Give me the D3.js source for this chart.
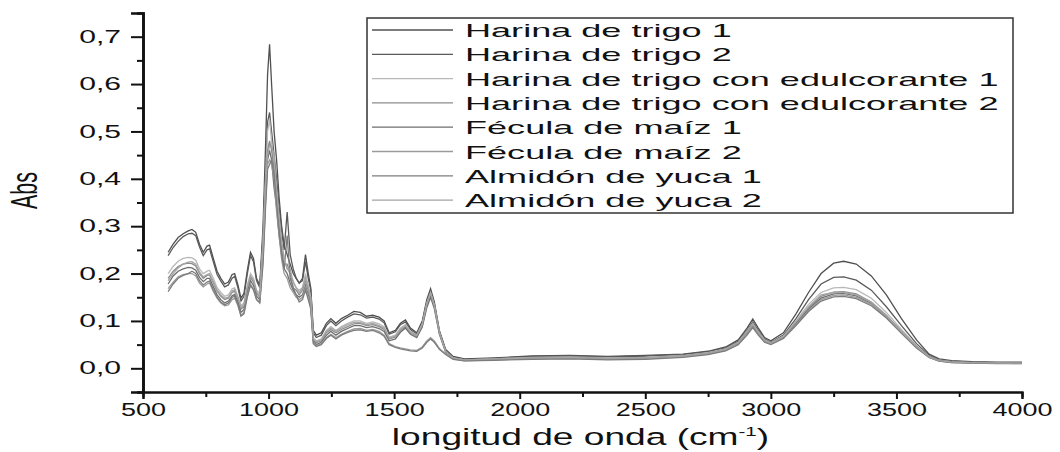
<!DOCTYPE html>
<html>
<head>
<meta charset="utf-8">
<script src="https://cdn.jsdelivr.net/npm/d3@7"></script>
<style>
  body { margin: 0; background: #fff; }
  text { font-family: "Liberation Sans", Arial, sans-serif; fill: #111; }
</style>
</head>
<body>
<div id="chart"></div>
<script>
// wavenumbers (cm-1) shared by every spectrum
var wavenumbers = [
  600,620,640,660,680,695,710,725,740,755,
  765,780,795,810,825,840,855,865,878,890,
  902,915,928,940,952,965,978,988,996,1004,
  1012,1022,1032,1042,1052,1062,1074,1086,1098,1110,
  1122,1135,1147,1158,1168,1178,1190,1210,1230,1248,
  1268,1290,1315,1340,1365,1390,1415,1440,1460,1480,
  1505,1525,1545,1565,1590,1612,1630,1645,1660,1680,
  1705,1735,1780,1900,2050,2200,2350,2500,2650,2750,
  2820,2870,2905,2928,2950,2975,3000,3050,3100,3150,
  3200,3250,3290,3340,3400,3460,3520,3580,3630,3670,
  3720,3800,3900,4000];

var seriesNames = [
  "Harina de trigo 1",
  "Harina de trigo 2",
  "Harina de trigo con edulcorante 1",
  "Harina de trigo con edulcorante 2",
  "Fécula de maíz 1",
  "Fécula de maíz 2",
  "Almidón de yuca 1",
  "Almidón de yuca 2"];

var harinaTrigo1 = [
  0.245,0.262,0.276,0.284,0.290,0.293,0.287,0.262,0.245,0.258,
  0.260,0.232,0.205,0.190,0.178,0.182,0.198,0.200,0.176,0.148,
  0.158,0.205,0.245,0.232,0.190,0.175,0.300,0.470,0.620,0.684,
  0.600,0.500,0.440,0.360,0.300,0.260,0.240,0.220,0.200,0.190,
  0.180,0.190,0.240,0.200,0.170,0.080,0.070,0.075,0.095,0.105,
  0.095,0.105,0.112,0.120,0.118,0.110,0.112,0.108,0.100,0.075,
  0.080,0.095,0.102,0.085,0.075,0.100,0.145,0.168,0.140,0.080,
  0.040,0.025,0.020,0.022,0.026,0.027,0.025,0.027,0.030,0.036,
  0.045,0.060,0.085,0.104,0.085,0.065,0.058,0.075,0.115,0.160,
  0.200,0.222,0.226,0.220,0.195,0.155,0.105,0.060,0.030,0.020,
  0.016,0.014,0.013,0.013];

var harinaTrigo2 = [
  0.238,0.255,0.268,0.278,0.284,0.285,0.280,0.256,0.238,0.250,
  0.252,0.225,0.198,0.184,0.172,0.176,0.190,0.194,0.170,0.142,
  0.152,0.198,0.238,0.225,0.185,0.170,0.280,0.420,0.520,0.540,
  0.500,0.450,0.400,0.340,0.290,0.250,0.330,0.240,0.210,0.190,
  0.180,0.185,0.225,0.190,0.165,0.075,0.065,0.070,0.090,0.100,
  0.090,0.100,0.108,0.115,0.113,0.106,0.108,0.104,0.096,0.072,
  0.077,0.092,0.098,0.082,0.072,0.096,0.140,0.163,0.136,0.078,
  0.038,0.024,0.019,0.021,0.025,0.026,0.024,0.026,0.029,0.035,
  0.043,0.057,0.080,0.098,0.080,0.062,0.055,0.070,0.105,0.145,
  0.178,0.192,0.193,0.186,0.165,0.130,0.090,0.052,0.027,0.018,
  0.015,0.013,0.012,0.012];

var harinaEdulc1 = [
  0.200,0.215,0.226,0.232,0.234,0.233,0.228,0.210,0.200,0.205,
  0.207,0.190,0.170,0.160,0.152,0.155,0.168,0.170,0.152,0.132,
  0.138,0.175,0.200,0.190,0.165,0.158,0.270,0.400,0.500,0.525,
  0.480,0.420,0.370,0.300,0.260,0.230,0.210,0.200,0.185,0.170,
  0.165,0.170,0.200,0.175,0.150,0.065,0.058,0.062,0.080,0.088,
  0.080,0.088,0.095,0.100,0.100,0.095,0.098,0.094,0.088,0.066,
  0.070,0.085,0.092,0.078,0.070,0.094,0.138,0.160,0.134,0.076,
  0.036,0.022,0.018,0.020,0.023,0.024,0.022,0.023,0.027,0.033,
  0.041,0.055,0.078,0.095,0.077,0.060,0.054,0.068,0.100,0.135,
  0.160,0.170,0.171,0.166,0.148,0.118,0.082,0.048,0.025,0.017,
  0.014,0.012,0.012,0.011];

var harinaEdulc2 = [
  0.190,0.205,0.215,0.220,0.222,0.221,0.216,0.200,0.190,0.196,
  0.197,0.180,0.163,0.152,0.145,0.148,0.160,0.163,0.146,0.125,
  0.130,0.168,0.192,0.182,0.158,0.150,0.250,0.380,0.460,0.480,
  0.460,0.420,0.360,0.300,0.250,0.220,0.220,0.200,0.170,0.165,
  0.155,0.165,0.185,0.165,0.140,0.060,0.054,0.058,0.075,0.082,
  0.075,0.082,0.088,0.094,0.095,0.090,0.092,0.088,0.082,0.062,
  0.066,0.080,0.088,0.075,0.068,0.090,0.133,0.155,0.130,0.074,
  0.035,0.022,0.018,0.019,0.022,0.023,0.021,0.022,0.026,0.032,
  0.040,0.054,0.076,0.092,0.075,0.058,0.053,0.066,0.096,0.128,
  0.152,0.161,0.162,0.157,0.140,0.112,0.078,0.046,0.024,0.016,
  0.013,0.012,0.011,0.011];

var feculaMaiz1 = [
  0.178,0.195,0.205,0.210,0.213,0.212,0.207,0.192,0.183,0.190,
  0.190,0.172,0.155,0.145,0.138,0.142,0.153,0.156,0.140,0.118,
  0.124,0.160,0.185,0.175,0.152,0.145,0.240,0.360,0.440,0.460,
  0.440,0.380,0.340,0.280,0.240,0.210,0.200,0.180,0.165,0.155,
  0.150,0.155,0.175,0.155,0.135,0.058,0.050,0.055,0.070,0.078,
  0.070,0.078,0.084,0.090,0.090,0.086,0.088,0.084,0.078,0.058,
  0.062,0.076,0.085,0.072,0.065,0.087,0.128,0.150,0.126,0.072,
  0.034,0.021,0.017,0.019,0.021,0.022,0.020,0.021,0.025,0.031,
  0.039,0.052,0.074,0.090,0.073,0.057,0.052,0.065,0.094,0.125,
  0.148,0.157,0.158,0.153,0.137,0.110,0.077,0.045,0.024,0.016,
  0.013,0.012,0.011,0.011];

var feculaMaiz2 = [
  0.168,0.182,0.193,0.198,0.200,0.200,0.195,0.180,0.172,0.178,
  0.180,0.162,0.148,0.138,0.132,0.134,0.145,0.148,0.132,0.112,
  0.118,0.152,0.178,0.168,0.146,0.140,0.230,0.350,0.430,0.440,
  0.430,0.400,0.330,0.280,0.230,0.200,0.190,0.170,0.160,0.150,
  0.145,0.150,0.170,0.150,0.130,0.055,0.048,0.052,0.065,0.072,
  0.065,0.072,0.078,0.083,0.084,0.080,0.082,0.078,0.070,0.052,
  0.046,0.043,0.041,0.039,0.038,0.045,0.058,0.065,0.058,0.042,
  0.030,0.020,0.016,0.018,0.020,0.021,0.019,0.020,0.024,0.030,
  0.038,0.051,0.072,0.088,0.072,0.056,0.051,0.064,0.092,0.122,
  0.145,0.154,0.155,0.150,0.135,0.108,0.076,0.044,0.023,0.015,
  0.012,0.011,0.011,0.010];

var almidonYuca1 = [
  0.162,0.178,0.190,0.196,0.200,0.205,0.200,0.185,0.176,0.182,
  0.184,0.166,0.150,0.140,0.134,0.138,0.150,0.152,0.135,0.110,
  0.115,0.150,0.175,0.165,0.145,0.138,0.220,0.340,0.420,0.430,
  0.440,0.410,0.350,0.290,0.240,0.210,0.280,0.190,0.170,0.155,
  0.140,0.145,0.165,0.145,0.125,0.052,0.046,0.050,0.063,0.070,
  0.062,0.070,0.076,0.080,0.081,0.078,0.080,0.075,0.068,0.050,
  0.044,0.041,0.039,0.037,0.036,0.043,0.055,0.062,0.055,0.040,
  0.029,0.019,0.016,0.017,0.019,0.020,0.018,0.019,0.023,0.029,
  0.037,0.050,0.070,0.086,0.070,0.055,0.050,0.063,0.090,0.120,
  0.142,0.151,0.152,0.147,0.132,0.106,0.074,0.043,0.023,0.015,
  0.012,0.011,0.010,0.010];

var almidonYuca2 = [
  0.185,0.200,0.212,0.220,0.224,0.225,0.220,0.203,0.193,0.198,
  0.200,0.183,0.165,0.155,0.148,0.150,0.163,0.166,0.148,0.128,
  0.134,0.170,0.195,0.186,0.162,0.152,0.260,0.390,0.450,0.470,
  0.470,0.450,0.380,0.320,0.270,0.230,0.210,0.210,0.180,0.170,
  0.160,0.170,0.190,0.170,0.145,0.062,0.056,0.060,0.078,0.085,
  0.078,0.085,0.092,0.097,0.097,0.092,0.095,0.090,0.085,0.064,
  0.068,0.082,0.090,0.076,0.069,0.092,0.135,0.158,0.132,0.075,
  0.035,0.022,0.018,0.020,0.022,0.023,0.021,0.022,0.026,0.032,
  0.040,0.054,0.077,0.093,0.076,0.059,0.053,0.067,0.098,0.130,
  0.155,0.160,0.160,0.155,0.139,0.111,0.077,0.046,0.024,0.016,
  0.013,0.012,0.011,0.011];

var seriesValues = [harinaTrigo1, harinaTrigo2, harinaEdulc1, harinaEdulc2,
                    feculaMaiz1, feculaMaiz2, almidonYuca1, almidonYuca2];

var xTicks = [500, 1000, 1500, 2000, 2500, 3000, 3500, 4000];
var yTicks = [0, 0.1, 0.2, 0.3, 0.4, 0.5, 0.6, 0.7];

// greys of the lines, same order as the legend
var colors = ["#505050", "#5a5a5a", "#b8b8b8", "#8c8c8c", "#6e6e6e", "#9a9a9a", "#7c7c7c", "#a4a4a4"];

// the original picture is stretched sideways, so text gets a horizontal scale
var stretch = 1.5;

var margin = {top: 13, right: 38, bottom: 60, left: 143},
    width = 1060 - margin.left - margin.right,
    height = 452 - margin.top - margin.bottom;

var svg = d3.select("#chart")
  .append("svg")
    .attr("width", width + margin.left + margin.right)
    .attr("height", height + margin.top + margin.bottom)
  .append("g")
    .attr("transform", "translate(" + margin.left + "," + margin.top + ")");

var x = d3.scaleLinear()
  .domain([500, 4000])
  .range([0, width]);

var y = d3.scaleLinear()
  .domain([-0.05, 0.75])
  .range([height, 0]);

var comma = function(v) { return d3.format(".1f")(v).replace(".", ","); };

// spectra
var line = d3.line()
  .x(function(d) { return x(d[0]); })
  .y(function(d) { return y(d[1]); });

seriesValues.forEach(function(vals, i) {
  svg.append("path")
    .datum(wavenumbers.map(function(w, j) { return [w, vals[j]]; }))
    .attr("fill", "none")
    .attr("stroke", colors[i])
    .attr("stroke-width", 1.3)
    .attr("d", line);
});

// minor ticks first, then the major axes on top
var xMinor = svg.append("g")
  .attr("transform", "translate(0," + height + ")")
  .call(d3.axisBottom(x).tickValues([750, 1250, 1750, 2250, 2750, 3250, 3750]).tickSize(5).tickFormat(""));

var yMinor = svg.append("g")
  .call(d3.axisLeft(y).tickValues([0.05, 0.15, 0.25, 0.35, 0.45, 0.55, 0.65]).tickSize(6).tickFormat(""));

var xAxis = svg.append("g")
  .attr("transform", "translate(0," + height + ")")
  .call(d3.axisBottom(x).tickValues(xTicks).tickSize(7).tickPadding(4).tickFormat(d3.format("d")));

var yAxis = svg.append("g")
  .call(d3.axisLeft(y).tickValues(yTicks).tickSize(12).tickFormat(comma).tickPadding(10));

[xMinor, yMinor, xAxis, yAxis].forEach(function(a) {
  a.selectAll("line").attr("stroke", "#111").attr("stroke-width", 2);
  a.select(".domain").attr("stroke", "#111").attr("stroke-width", 2);
});
yAxis.select(".domain").attr("stroke-width", 2.6);
yMinor.select(".domain").attr("stroke-width", 2.6);

// stretch the tick labels sideways
xAxis.selectAll("text")
  .style("font-size", "18px")
  .attr("dy", "0.71em")
  .attr("transform", function() {
    var t = d3.select(this);
    return "translate(0," + t.attr("y") + ") scale(" + stretch + ",1)";
  })
  .attr("y", 0);

yAxis.selectAll("text")
  .style("font-size", "17.5px")
  .attr("transform", function() {
    var t = d3.select(this);
    return "translate(" + t.attr("x") + ",0) scale(1.72,1)";
  })
  .attr("x", 0);

// axis titles
svg.append("text")
  .attr("transform", "translate(" + (-106) + "," + (height / 2 - 12) + ") scale(1.7,1) rotate(-90)")
  .attr("text-anchor", "middle")
  .style("font-size", "21.5px")
  .text("Abs");

var xTitle = svg.append("text")
  .attr("transform", "translate(" + (width / 2 - 2) + "," + (height + 53) + ") scale(1.58,1)")
  .attr("text-anchor", "middle")
  .style("font-size", "23.5px");
xTitle.append("tspan").text("longitud de onda (cm");
xTitle.append("tspan").attr("dy", -9).style("font-size", "13px").text("-1");
xTitle.append("tspan").attr("dy", 9).text(")");

// legend box
var legend = svg.append("g")
  .attr("transform", "translate(" + (367 - margin.left) + "," + (18 - margin.top) + ")");

legend.append("rect")
  .attr("width", 646)
  .attr("height", 195)
  .attr("fill", "#fff")
  .attr("stroke", "#333")
  .attr("stroke-width", 1.5);

seriesNames.forEach(function(name, i) {
  var ly = 12 + i * 24.3;
  legend.append("line")
    .attr("x1", 5).attr("x2", 86)
    .attr("y1", ly).attr("y2", ly)
    .attr("stroke", colors[i])
    .attr("stroke-width", 1.3);
  legend.append("text")
    .attr("transform", "translate(98," + (ly + 7) + ") scale(1.9,1)")
    .style("font-size", "19px")
    .text(name);
});
</script>
</body>
</html>
